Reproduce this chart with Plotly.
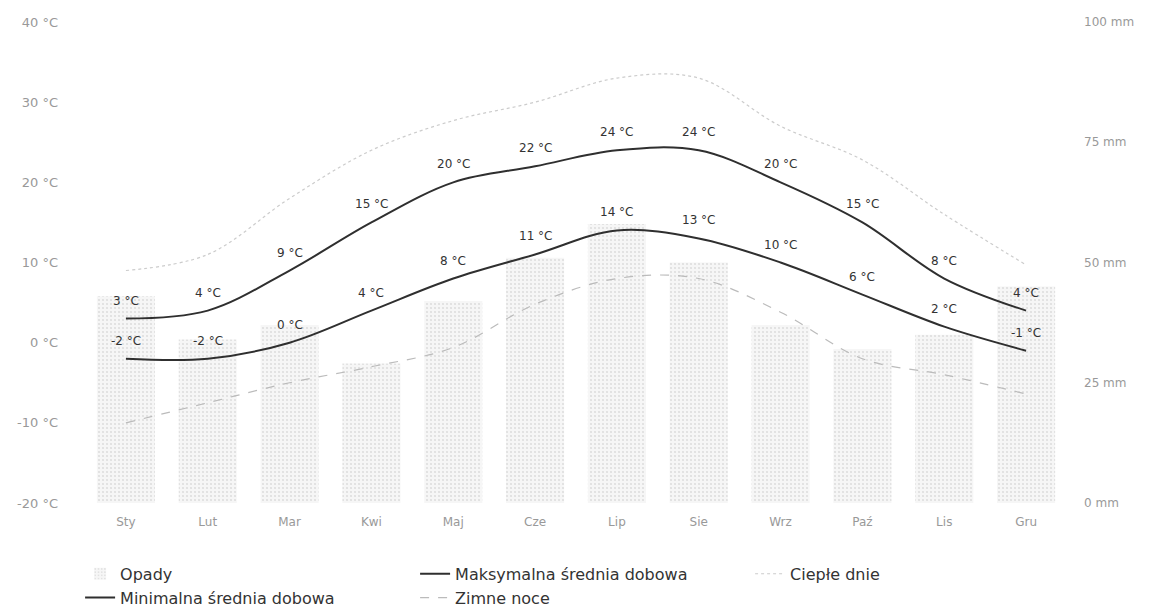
import plotly.graph_objects as go

months = ["Sty", "Lut", "Mar", "Kwi", "Maj", "Cze", "Lip", "Sie", "Wrz", "Paź", "Lis", "Gru"]
precip_mm = [43, 34, 37, 29, 42, 51, 58, 50, 37, 32, 35, 45]
max_temp = [3, 4, 9, 15, 20, 22, 24, 24, 20, 15, 8, 4]
min_temp = [-2, -2, 0, 4, 8, 11, 14, 13, 10, 6, 2, -1]
hot_days = [9, 11, 18, 24, 27.7, 30, 33, 33, 27, 22.8, 16, 9.7]
cold_nights = [-10, -7.5, -5, -3, -0.6, 4.8, 8, 8, 3.8, -2, -4, -6.4]

temp_ticks = [-20, -10, 0, 10, 20, 30, 40]
temp_ticktext = [f"{t} °C" for t in temp_ticks]
mm_ticks = [0, 25, 50, 75, 100]
mm_ticktext = [f"{t} mm" for t in mm_ticks]

FONT = "DejaVu Sans"
LINE = "#2f2f2f"

fig = go.Figure()

fig.add_trace(go.Bar(
    x=months, y=precip_mm, name="Opady", yaxis="y",
    marker=dict(color="#eeeeee", line=dict(width=0),
                pattern=dict(shape=".", fgcolor="#c4c4c4", bgcolor="#f6f6f6", size=4, solidity=0.22)),
    legendrank=1,
))
fig.add_trace(go.Scatter(
    x=months, y=hot_days, name="Ciepłe dnie", yaxis="y2", mode="lines",
    line=dict(color="#cccccc", width=1.2, dash="dot", shape="spline"),
    legendrank=3,
))
fig.add_trace(go.Scatter(
    x=months, y=cold_nights, name="Zimne noce", yaxis="y2", mode="lines",
    line=dict(color="#bbbbbb", width=1.2, dash="dash", shape="spline"),
    legendrank=5,
))
fig.add_trace(go.Scatter(
    x=months, y=min_temp, name="Minimalna średnia dobowa", yaxis="y2", mode="lines",
    line=dict(color=LINE, width=2, shape="spline"),
    legendrank=4,
))
fig.add_trace(go.Scatter(
    x=months, y=max_temp, name="Maksymalna średnia dobowa", yaxis="y2", mode="lines",
    line=dict(color=LINE, width=2, shape="spline"),
    legendrank=2,
))

annotations = []
for series in (max_temp, min_temp):
    for m, v in zip(months, series):
        annotations.append(dict(
            x=m, y=v, xref="x", yref="y2", text=f"{v} °C", showarrow=False,
            yshift=18, font=dict(family=FONT, size=12, color="#333333"),
        ))

fig.update_layout(
    width=1165, height=615,
    margin=dict(l=77, r=106, t=14, b=120, autoexpand=False),
    paper_bgcolor="white", plot_bgcolor="white",
    font=dict(family=FONT, size=12, color="#999999"),
    bargap=0.29,
    showlegend=True,
    annotations=annotations,
    legend=dict(orientation="h", x=-0.005, xanchor="left", y=-0.112, yanchor="top",
                entrywidth=290, entrywidthmode="pixels",
                font=dict(family=FONT, size=16, color="#333333"),
                traceorder="normal", itemwidth=30, tracegroupgap=0),
    xaxis=dict(showgrid=False, zeroline=False, showline=False, ticks="",
               automargin=False, ticklabelstandoff=10,
               tickfont=dict(family=FONT, size=12, color="#999999")),
    yaxis=dict(side="right", range=[0, 100], tickvals=mm_ticks, ticktext=mm_ticktext,
               showgrid=False, zeroline=False, showline=False, ticks="",
               automargin=False, ticklabelstandoff=16,
               tickfont=dict(family=FONT, size=12, color="#999999")),
    yaxis2=dict(side="left", overlaying="y", range=[-20, 40], tickvals=temp_ticks, ticktext=temp_ticktext,
                showgrid=False, zeroline=False, showline=False, ticks="",
                automargin=False, ticklabelstandoff=26,
                tickfont=dict(family=FONT, size=13, color="#999999")),
)

fig.write_html("out.html")
